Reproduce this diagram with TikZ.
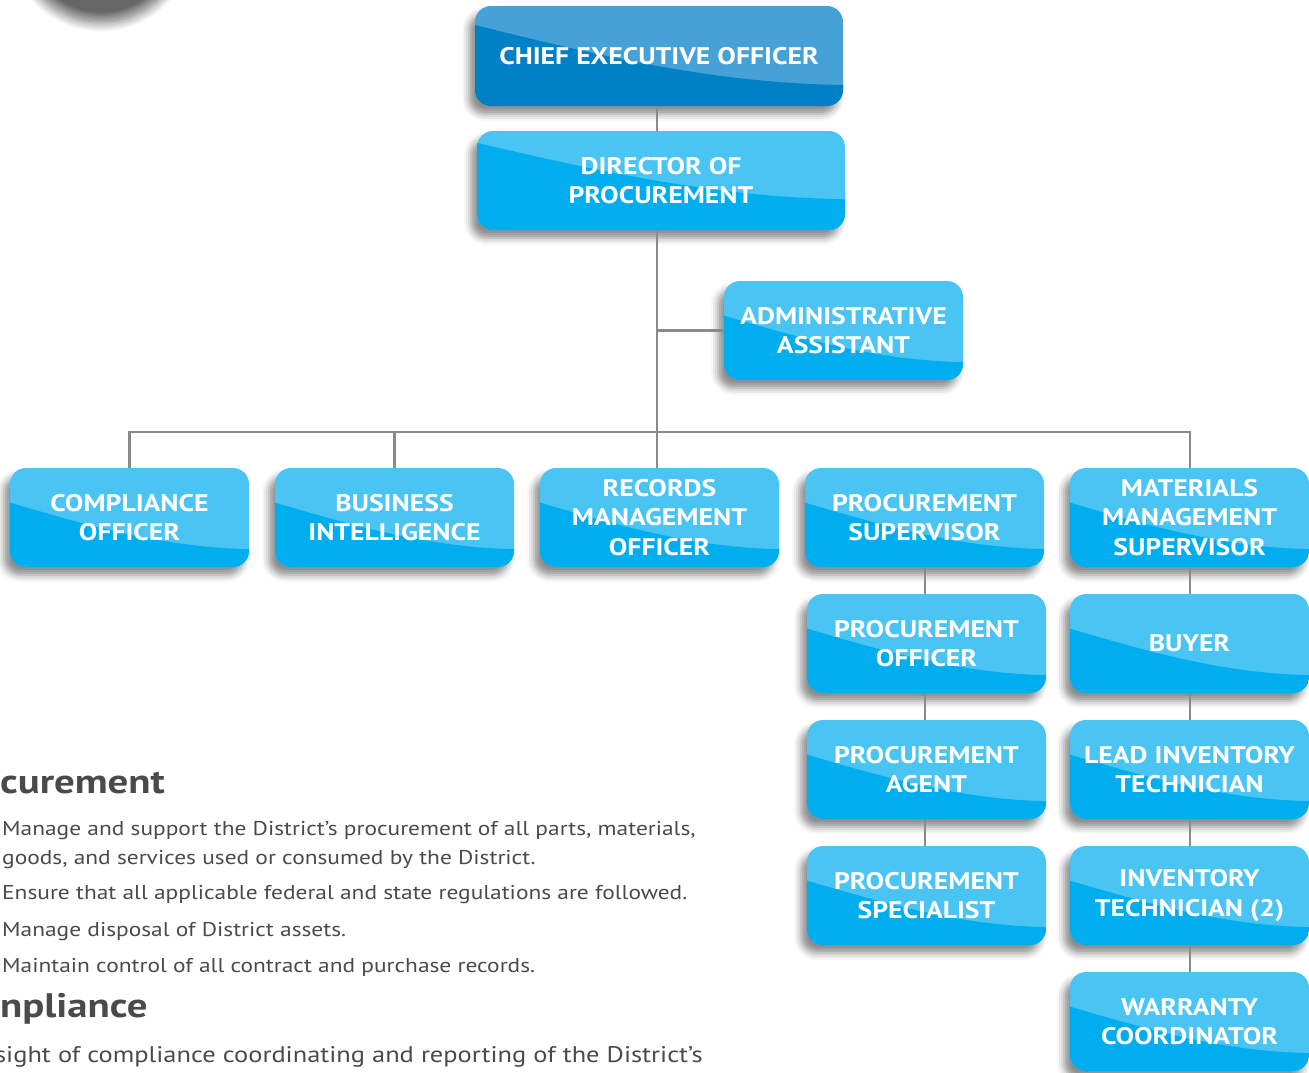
\documentclass[tikz,border=0pt]{standalone}
\usepackage{fontspec}
\setmainfont{PT Sans}
\newfontfamily\boxff{PT Sans}[FakeStretch=1.155]
\newfontfamily\bodyff{PT Sans}[FakeStretch=1.17]
\newfontfamily\headff{PT Sans}[FakeStretch=1.2]
\usetikzlibrary{shadows.blur,calc}
\definecolor{lb}{HTML}{4AC4F3}
\definecolor{db}{HTML}{00ADEE}
\definecolor{lc}{HTML}{46A2D6}
\definecolor{dc}{HTML}{0080C5}
\definecolor{ln}{HTML}{8A8A8A}
\definecolor{tx}{HTML}{4A4A4A}
\newcommand\curL{0.35}
\newcommand\curR{0.82}
\newcommand\boxfont{\boxff\fontsize{24}{29.5}\selectfont\bfseries}
\newcommand\bodyfont{\bodyff\fontsize{20}{29}\selectfont}
\newcommand\headfont{\headff\fontsize{34}{40}\selectfont\bfseries}
\tikzset{
  curve/.code 2 args={\def\curL{#1}\def\curR{#2}},
  pbox/.style={rounded corners=16pt, minimum width=239pt, minimum height=99pt,
    inner sep=0pt, align=center, text=white, font=\boxfont, fill=lb,
    blur shadow={shadow xshift=-6pt, shadow yshift=-8pt, shadow blur radius=7pt, shadow opacity=45},
    path picture={\fill[db, sharp corners] let \p1=(path picture bounding box.south west),
      \p2=(path picture bounding box.north east), \n1={\x2-\x1}, \n2={\y2-\y1} in
      (\x1,{\y2-\curL*\n2}) .. controls ({\x1+0.35*\n1},{\y2-(\curL+0.53*(\curR-\curL))*\n2})
      and ({\x1+0.65*\n1},{\y2-(\curL+0.96*(\curR-\curL))*\n2}) .. (\x2,{\y2-\curR*\n2})
      -- (\x2,\y1) -- (\x1,\y1) -- cycle;}},
  wbox/.style={pbox, minimum width=368pt, minimum height=100pt},
  conn/.style={draw=ln, line width=2.5pt},
  body/.style={anchor=base west, inner sep=0pt, text=tx, font=\bodyfont, align=left},
  head/.style={anchor=base west, inner sep=0pt, text=tx, font=\headfont},
}
\begin{document}
\begin{tikzpicture}[x=1pt,y=-1pt]
\useasboundingbox (0,0) rectangle (1309,1072);
\begin{scope}
\clip (0,0) rectangle (1309,1072);
\path[blur shadow={shadow xshift=0pt, shadow yshift=0pt, shadow blur radius=10pt, shadow opacity=60, shadow blur steps=20}] (101,-62) circle (84);
\end{scope}

% boxes
\node[wbox, fill=lc, path picture={\fill[dc, sharp corners] let \p1=(path picture bounding box.south west),
      \p2=(path picture bounding box.north east), \n1={\x2-\x1}, \n2={\y2-\y1} in
      (\x1,{\y2-0.19*\n2}) .. controls ({\x1+0.35*\n1},{\y2-0.51*\n2})
      and ({\x1+0.65*\n1},{\y2-0.77*\n2}) .. (\x2,{\y2-0.79*\n2})
      -- (\x2,\y1) -- (\x1,\y1) -- cycle;}] (ceo) at (659,56) {CHIEF EXECUTIVE OFFICER};
\node[wbox, curve={0.12}{0.69}, minimum height=99pt] (dir) at (661,180.5) {DIRECTOR OF\\PROCUREMENT};
\node[pbox] (adm) at (843.5,330.5) {ADMINISTRATIVE\\ASSISTANT};

\node[pbox] (comp) at (129.5,517.5) {COMPLIANCE\\OFFICER};
\node[pbox] (bi) at (394.5,517.5) {BUSINESS\\INTELLIGENCE};
\node[pbox] (rec) at (659.5,517.5) {RECORDS\\MANAGEMENT\\OFFICER};
\node[pbox] (ps) at (924.5,517.5) {PROCUREMENT\\SUPERVISOR};
\node[pbox] (mm) at (1189.5,517.5) {MATERIALS\\MANAGEMENT\\SUPERVISOR};

\node[pbox] (po) at (926.5,643.5) {PROCUREMENT\\OFFICER};
\node[pbox] (pa) at (926.5,769.5) {PROCUREMENT\\AGENT};
\node[pbox] (psp) at (926.5,895.5) {PROCUREMENT\\SPECIALIST};

\node[pbox] (buy) at (1189.5,643.5) {BUYER};
\node[pbox] (lit) at (1189.5,769.5) {LEAD INVENTORY\\TECHNICIAN};
\node[pbox] (it) at (1189.5,895.5) {INVENTORY\\TECHNICIAN (2)};
\node[pbox] (wc) at (1189.5,1021.5) {WARRANTY\\COORDINATOR};

% connectors
\coordinate (bus) at (657,432);
\coordinate (psl) at (925,0);
\coordinate (mml) at (1190,0);
\draw[conn] (bus |- ceo.south) -- (bus |- dir.north);
\draw[conn] (bus |- dir.south) -- (bus);
\draw[conn] (bus |- adm.west) -- (adm.west);
\draw[conn] (comp.north) |- (bus) -| (mm.north -| mml);
\draw[conn] (bi.north) -- (bi.north |- bus);
\draw[conn] (rec.north -| bus) -- (bus);
\draw[conn] (ps.north -| psl) -- (ps.north -| psl |- bus);
\draw[conn] (ps.south -| psl) -- (po.north -| psl);
\draw[conn] (po.south -| psl) -- (pa.north -| psl);
\draw[conn] (pa.south -| psl) -- (psp.north -| psl);
\draw[conn] (mm.south -| mml) -- (buy.north -| mml);
\draw[conn] (buy.south -| mml) -- (lit.north -| mml);
\draw[conn] (lit.south -| mml) -- (it.north -| mml);
\draw[conn] (it.south -| mml) -- (wc.north -| mml);

% text
\node[head] (h1) at (0,793) {curement};
\node[body] (b1) at (2,864) {Manage and support the District’s procurement of all parts, materials,\\goods, and services used or consumed by the District.};
\node[body] (b2) at (2,899) {Ensure that all applicable federal and state regulations are followed.};
\node[body] (b3) at (2,936) {Manage disposal of District assets.};
\node[body] (b4) at (2,972) {Maintain control of all contract and purchase records.};
\node[head] (h2) at (0,1017) {npliance};
\node[body, anchor=base east, font=\bodyff\fontsize{22.6}{29}\selectfont] (b5) at (703,1062) {sight of compliance coordinating and reporting of the District’s};
\end{tikzpicture}
\end{document}
